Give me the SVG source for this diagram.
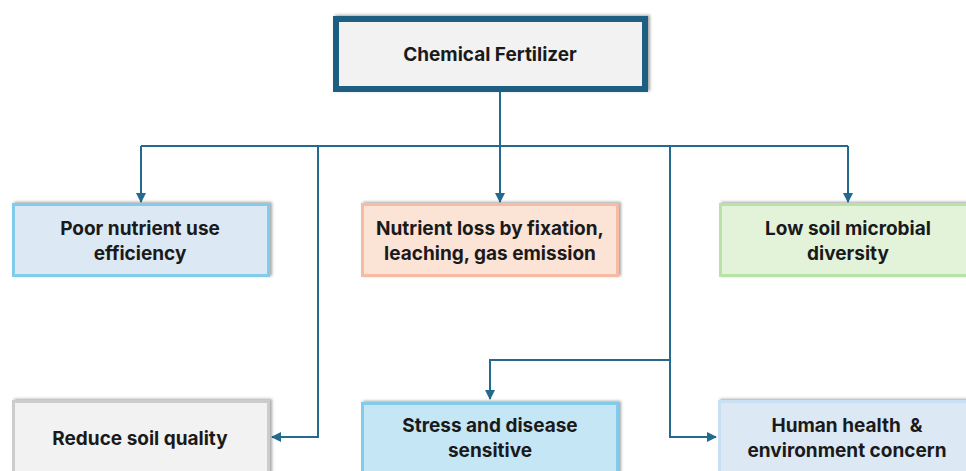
<svg xmlns="http://www.w3.org/2000/svg" width="966" height="471" viewBox="0 0 966 471">
<defs>
<style>
.t{font-family:Inter,"Open Sans","Liberation Sans",sans-serif;font-weight:700;font-size:19px;fill:#1a1a1a;text-anchor:middle}
.c{fill:none;stroke:#236a8e;stroke-width:2}
</style>
<filter id="sh" x="-10%" y="-20%" width="120%" height="140%">
<feDropShadow dx="2" dy="-1" stdDeviation="1.5" flood-color="#000" flood-opacity="0.35"/>
</filter>
<marker id="ah" viewBox="0 0 10 10" refX="9" refY="5" markerWidth="5" markerHeight="5" orient="auto" markerUnits="strokeWidth">
<path d="M0,0 L10,5 L0,10 z" fill="#236a8e"/>
</marker>
</defs>
<rect width="966" height="471" fill="#fff"/>
<g id="connectors">
<path class="c" d="M500,92 V146"/>
<path class="c" d="M141,146 H848"/>
<path class="c" d="M141,146 V202" marker-end="url(#ah)"/>
<path class="c" d="M500,146 V202" marker-end="url(#ah)"/>
<path class="c" d="M848,146 V202" marker-end="url(#ah)"/>
<path class="c" d="M318,146 V437 H272" marker-end="url(#ah)"/>
<path class="c" d="M670,146 V437 H716" marker-end="url(#ah)"/>
<path class="c" d="M670,360 H490 V399" marker-end="url(#ah)"/>
</g>
<g id="chemical-fertilizer">
<rect x="336" y="19" width="309" height="70" fill="#f2f2f2" stroke="#1d5f80" stroke-width="6" filter="url(#sh)"/>
<text class="t" x="490" y="61">Chemical Fertilizer</text>
</g>
<g id="poor-nutrient">
<rect x="13.5" y="204.5" width="255" height="71" fill="#dce9f5" stroke="#82cbea" stroke-width="3" filter="url(#sh)"/>
<text class="t" x="140" y="235">Poor nutrient use</text>
<text class="t" x="140" y="260">efficiency</text>
</g>
<g id="nutrient-loss">
<rect x="362.5" y="204.5" width="255" height="71" fill="#fbe3d6" stroke="#f5bba5" stroke-width="3" filter="url(#sh)"/>
<text class="t" x="490" y="235">Nutrient loss by fixation,</text>
<text class="t" x="490" y="260">leaching, gas emission</text>
</g>
<g id="low-soil">
<rect x="720.5" y="204.5" width="250" height="71" fill="#e2f3da" stroke="#b8e3a6" stroke-width="3" filter="url(#sh)"/>
<text class="t" x="848" y="235">Low soil microbial</text>
<text class="t" x="848" y="260">diversity</text>
</g>
<g id="reduce-soil">
<rect x="13.5" y="401.5" width="255" height="80" fill="#f2f2f2" stroke="#cccccc" stroke-width="3" filter="url(#sh)"/>
<text class="t" x="140" y="445">Reduce soil quality</text>
</g>
<g id="stress">
<rect x="362.5" y="403.5" width="255" height="80" fill="#c5e6f5" stroke="#82cbea" stroke-width="3" filter="url(#sh)"/>
<text class="t" x="490" y="432">Stress and disease</text>
<text class="t" x="490" y="457">sensitive</text>
</g>
<g id="human-health">
<rect x="719.5" y="401.5" width="255" height="80" fill="#dce9f5" stroke="#c8e0f2" stroke-width="3" filter="url(#sh)"/>
<text class="t" x="847" y="432">Human health&#160; &amp;</text>
<text class="t" x="847" y="457">environment concern</text>
</g>
</svg>
